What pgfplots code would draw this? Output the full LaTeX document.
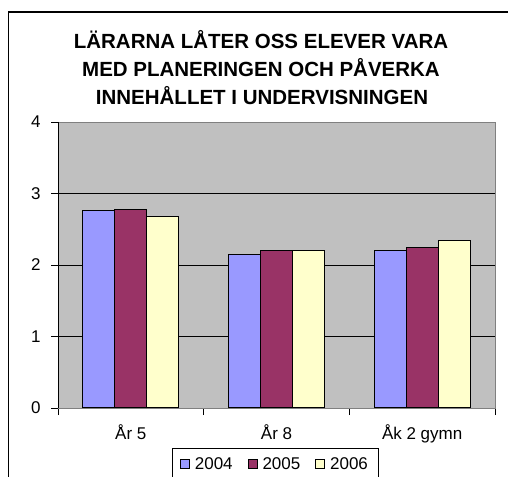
\documentclass[border=0pt]{standalone}
\usepackage{pgfplots}
\pgfplotsset{compat=1.18}
\usepackage{fontspec}
\setmainfont{Liberation Sans}
\definecolor{c04}{HTML}{9999FF}
\definecolor{c05}{HTML}{993366}
\definecolor{c06}{HTML}{FFFFCC}
\definecolor{bgc}{HTML}{C0C0C0}
\definecolor{brd}{HTML}{808080}
\begin{document}
\begin{tikzpicture}[x=1pt,y=1pt]
\useasboundingbox (0,0) rectangle (508,476);
\draw[line width=1.4pt] (8.5,-5) -- (8.5,464) -- (515,464);
\begin{scope}[every node/.style={anchor=base, inner sep=0pt, font=\fontsize{20.5}{24}\selectfont\bfseries}]
\node at (261,427.7) {LÄRARNA LÅTER OSS ELEVER VARA};
\node at (261,399.3) {MED PLANERINGEN OCH PÅVERKA};
\node at (262,371) {INNEHÅLLET I UNDERVISNINGEN};
\end{scope}
\begin{axis}[
  at={(58pt,68pt)}, anchor=south west, scale only axis,
  width=437pt, height=286pt,
  xmin=0, xmax=3, ymin=0, ymax=4,
  axis background/.style={fill=bgc},
  axis line style={draw=brd, line width=0.8pt},
  ybar=0pt, bar width=32pt,
  xtick={0,1,2,3}, xticklabels={År 5,År 8,Åk 2 gymn},
  x tick label as interval,
  ytick={0,1,2,3,4},
  xtick pos=bottom, ytick pos=left,
  tick align=outside,
  major tick length=7pt,
  tick style={black, line width=0.8pt},
  ymajorgrids, grid style={black, line width=0.7pt},
  ticklabel style={font=\fontsize{17}{20}\selectfont},
  yticklabel style={xshift=-7pt},
  xticklabel style={yshift=-6pt},
  /pgf/number format/assume math mode=true,
  legend columns=3,
  legend style={at={(0.4966,-0.14)}, anchor=north, draw=black, line width=0.8pt,
    font=\fontsize{17}{20}\selectfont, inner xsep=8pt, inner ysep=7pt,
    /tikz/every odd column/.append style={column sep=3pt},
    /tikz/every even column/.append style={column sep=13pt}},
  legend cell align=left,
  legend image code/.code={\draw[#1, line width=0.8pt] (0pt,-4.5pt) rectangle (9pt,4.5pt);},
]
\addplot[draw=black, line width=1pt, fill=c04] coordinates {(0.5,2.76) (1.5,2.14) (2.5,2.20)};
\addplot[draw=black, line width=1pt, fill=c05] coordinates {(0.5,2.77) (1.5,2.20) (2.5,2.25)};
\addplot[draw=black, line width=1pt, fill=c06] coordinates {(0.5,2.68) (1.5,2.20) (2.5,2.34)};
\legend{2004,2005,2006\hspace{8pt}}
\draw[black, line width=0.8pt] (rel axis cs:0,1) -- (rel axis cs:0,0) -- (rel axis cs:1,0);
\end{axis}
\end{tikzpicture}
\end{document}
